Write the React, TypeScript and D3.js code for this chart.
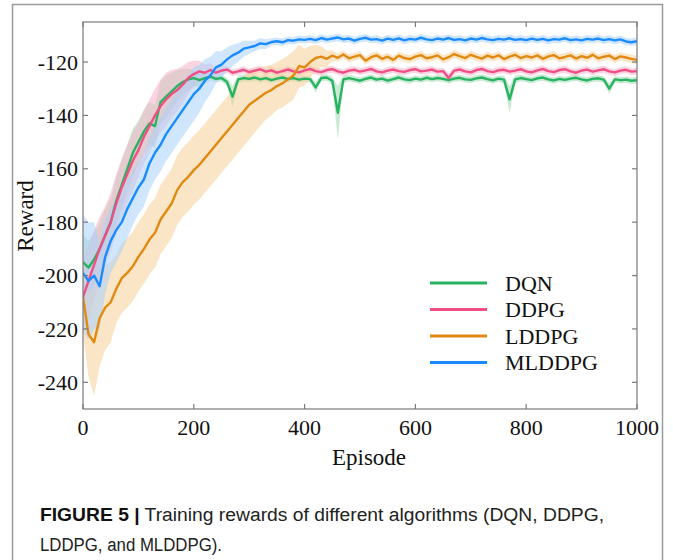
import React from "react";
import * as d3 from "d3";

const episodes: number[] = d3.range(0, 1001, 10);

const xTicks = [0, 200, 400, 600, 800, 1000];
const yTicks = [-240, -220, -200, -180, -160, -140, -120];

const seriesNames = ["DQN", "DDPG", "LDDPG", "MLDDPG"];
const lineColors = ["#27b35f", "#ef4f86", "#e08a12", "#1a8bff"];
const bandColors = ["#9fd9b3", "#f5b3c9", "#f6cf98", "#a9d2fb"];

const dqn = [
  -195, -197, -194, -190, -185, -180, -172, -166, -160, -154,
  -150, -146, -143, -144, -135, -133, -131, -129, -127.5, -126.5,
  -126, -126.8, -126, -125.5, -126.3, -126, -127.5, -133, -126.5, -126,
  -126.3, -125.8, -126.5, -126, -126.8, -126.2, -125.8, -126.4, -126, -126.6,
  -126.2, -126.4, -129.5, -126, -125.8, -127, -139, -126.5, -126, -126.5,
  -127, -126.3, -125.8, -126.6, -126.2, -127, -126.4, -125.8, -126.5, -126.8,
  -126.2, -126.6, -125.9, -126.4, -126, -126.3, -126.8, -126.2, -125.9, -126.5,
  -126.7, -126.1, -125.8, -126.4, -126.9, -126.2, -126.6, -134, -126.5, -126,
  -126.4, -126.8, -126.1, -125.8, -126.5, -126.9, -126.3, -126.7, -126.2, -125.9,
  -126.5, -126.9, -126.3, -126.1, -126.6, -130, -126.5, -126.8, -126.6, -127,
  -126.8,
];
const dqnBand = [
  10, 10, 10, 10, 10, 9, 9, 9, 9, 9,
  8, 8, 8, 8, 8, 8, 7, 6, 5, 4,
  3, 2.5, 2, 1.5, 1.3, 1.3, 1.5, 4, 1.5, 1.3,
  1.2, 1.2, 1.2, 1.2, 1.2, 1.2, 1.2, 1.2, 1.2, 1.2,
  1.2, 1.2, 2, 1.2, 1.2, 1.5, 10, 1.5, 1.2, 1.2,
  1.2, 1.2, 1.2, 1.2, 1.2, 1.2, 1.2, 1.2, 1.2, 1.2,
  1.2, 1.2, 1.2, 1.2, 1.2, 1.2, 1.2, 1.2, 1.2, 1.2,
  1.2, 1.2, 1.2, 1.2, 1.2, 1.2, 1.5, 5, 1.5, 1.2,
  1.2, 1.2, 1.2, 1.2, 1.2, 1.2, 1.2, 1.2, 1.2, 1.2,
  1.2, 1.2, 1.2, 1.2, 1.2, 2, 1.2, 1.2, 1.2, 1.2,
  1.2,
];

const ddpg = [
  -208, -202, -196, -190, -185, -180, -173, -167, -162, -157,
  -153, -148, -144, -140, -136.5, -134, -132, -130.5, -128.5, -126,
  -124.5, -123.5, -124, -123, -124, -123.2, -122.8, -124, -123.5, -122.9,
  -123.8, -123.2, -122.7, -123.6, -123.1, -124, -123.4, -122.8, -123.5, -123.9,
  -123.1, -122.6, -123.4, -123.8, -123, -122.7, -123.5, -124, -123.2, -122.9,
  -123.6, -123.1, -122.6, -123.5, -123.9, -123.2, -122.8, -123.4, -123.7, -123,
  -122.7, -123.5, -123.2, -122.8, -123.6, -123.4, -126, -123.2, -122.8, -123.5,
  -123.9, -123, -122.6, -123.4, -123.8, -123.1, -122.9, -123.6, -123.2, -122.7,
  -123.5, -123.9, -123.1, -122.6, -123.4, -123.8, -123, -122.7, -123.5, -124,
  -123.2, -122.8, -123.6, -123.1, -122.7, -123.5, -123.9, -123.2, -122.9, -123.6,
  -123.4,
];
const ddpgBand = [
  14, 14, 13, 12, 11, 11, 11, 11, 11, 11,
  10, 10, 10, 10, 10, 10, 9, 8, 7, 6,
  5, 4, 3, 2.5, 2, 1.5, 1.3, 1.3, 1.3, 1.3,
  1.3, 1.3, 1.3, 1.3, 1.3, 1.3, 1.3, 1.3, 1.3, 1.3,
  1.3, 1.3, 1.3, 1.3, 1.3, 1.3, 1.3, 1.3, 1.3, 1.3,
  1.3, 1.3, 1.3, 1.3, 1.3, 1.3, 1.3, 1.3, 1.3, 1.3,
  1.3, 1.3, 1.3, 1.3, 1.3, 1.3, 1.8, 1.3, 1.3, 1.3,
  1.3, 1.3, 1.3, 1.3, 1.3, 1.3, 1.3, 1.3, 1.3, 1.3,
  1.3, 1.3, 1.3, 1.3, 1.3, 1.3, 1.3, 1.3, 1.3, 1.3,
  1.3, 1.3, 1.3, 1.3, 1.3, 1.3, 1.3, 1.3, 1.3, 1.3,
  1.3,
];

const lddpg = [
  -208, -222, -225, -216, -212, -210, -205, -201, -199, -196.5,
  -193, -190, -186.5, -184, -179, -176, -173, -168, -165, -163,
  -160.5, -158.5, -156, -153.5, -151, -148.5, -146, -143.5, -141, -138.5,
  -136, -134.5, -133, -131.5, -130.5, -129, -128, -126.5, -125, -121.5,
  -122, -120, -118.5, -118, -118.8, -117.6, -118.4, -117.2, -118.6, -118,
  -117.4, -119.5, -118.2, -117.5, -118.8, -118, -119.2, -117.6, -118.5, -118.9,
  -118, -117.4, -118.6, -118.2, -117.5, -119, -118.2, -117, -117.8, -118.5,
  -117.3, -118.1, -118.7, -117.6, -118.3, -117.5, -118.9, -118, -117.3, -118.5,
  -117.8, -118.3, -117.5, -118.8, -117.9, -117.4, -118.6, -118.1, -117.5, -118.7,
  -117.8, -118.4, -117.3, -118.6, -118, -117.6, -118.9, -117.9, -118.3, -118.8,
  -119.2,
];
const lddpgBand = [
  14, 16, 20, 18, 16, 15, 13, 13, 13, 13,
  13, 13, 13, 13, 13, 13, 13, 13, 13, 13,
  13, 13, 13, 13, 13, 13, 13, 13, 13, 13,
  13, 12, 11, 10, 9.5, 9, 9, 9, 9, 8,
  7, 6, 5, 4, 3, 2, 1.5, 1.5, 1.5, 1.5,
  1.5, 1.5, 1.5, 1.5, 1.5, 1.5, 1.5, 1.5, 1.5, 1.5,
  1.5, 1.5, 1.5, 1.5, 1.5, 1.5, 1.5, 1.5, 1.5, 1.5,
  1.5, 1.5, 1.5, 1.5, 1.5, 1.5, 1.5, 1.5, 1.5, 1.5,
  1.5, 1.5, 1.5, 1.5, 1.5, 1.5, 1.5, 1.5, 1.5, 1.5,
  1.5, 1.5, 1.5, 1.5, 1.5, 1.5, 1.5, 1.5, 1.5, 1.5,
  1.5,
];

const mlddpg = [
  -199, -202, -200, -204, -193, -187, -183, -180, -175, -171,
  -167, -164, -158, -154, -151, -147, -144, -141, -138, -135,
  -132, -130, -127, -125, -122, -121, -119, -117.5, -116.5, -115,
  -114.5, -114, -113, -113.3, -112.5, -112.2, -112.6, -111.8, -112, -111.5,
  -111.7, -111.3, -111.8, -111, -111.6, -111.2, -110.8, -111.5, -111.2, -112,
  -111.3, -110.9, -111.6, -111.4, -112, -111.2, -111.7, -111.1, -111.9, -111.3,
  -111.6, -110.9, -111.5, -111.8, -111.2, -111.6, -111, -111.7, -111.4, -111.9,
  -111.2, -111.6, -111, -111.5, -111.8, -111.3, -111.6, -111.1, -111.7, -111.4,
  -111.8, -111.2, -111.7, -111.3, -111.9, -111.4, -111.6, -111.1, -111.8, -111.5,
  -111.9, -111.3, -111.6, -111.2, -111.8, -111.4, -111.9, -111.5, -112.3, -112.6,
  -112.2,
];
const mlddpgBand = [
  22, 22, 20, 16, 14, 12, 12, 11, 11, 10,
  10, 10, 10, 10, 10, 10, 10, 10, 10, 10,
  10, 9, 8, 7, 6, 5, 4.5, 4, 3.5, 3,
  2.5, 2, 2, 1.8, 1.4, 1.4, 1.4, 1.4, 1.4, 1.4,
  1.4, 1.4, 1.4, 1.4, 1.4, 1.4, 1.4, 1.4, 1.4, 1.4,
  1.4, 1.4, 1.4, 1.4, 1.4, 1.4, 1.4, 1.4, 1.4, 1.4,
  1.4, 1.4, 1.4, 1.4, 1.4, 1.4, 1.4, 1.4, 1.4, 1.4,
  1.4, 1.4, 1.4, 1.4, 1.4, 1.4, 1.4, 1.4, 1.4, 1.4,
  1.4, 1.4, 1.4, 1.4, 1.4, 1.4, 1.4, 1.4, 1.4, 1.4,
  1.4, 1.4, 1.4, 1.4, 1.4, 1.4, 1.4, 1.4, 1.4, 1.4,
  1.4,
];

const seriesValues = [dqn, ddpg, lddpg, mlddpg];
const seriesBands = [dqnBand, ddpgBand, lddpgBand, mlddpgBand];

const captionBold = "FIGURE 5 |";
const captionLine1 = " Training rewards of different algorithms (DQN, DDPG,";
const captionLine2 = "LDDPG, and MLDDPG).";

export default function App() {
  const W = 673;
  const H = 560;
  const left = 83;
  const right = 637;
  const top = 22;
  const bottom = 409;

  const x = d3.scaleLinear().domain([0, 1000]).range([left, right]);
  const y = d3.scaleLinear().domain([-250, -105]).range([bottom, top]);

  const line = d3
    .line<[number, number]>()
    .x((d) => x(d[0]))
    .y((d) => y(d[1]));
  const area = d3
    .area<[number, number, number]>()
    .x((d) => x(d[0]))
    .y0((d) => y(Math.max(-250, d[1] - d[2])))
    .y1((d) => y(Math.min(-105, d[1] + d[2])));

  const serif = "'Liberation Serif', 'Times New Roman', serif";
  const sans = "'Liberation Sans Narrow', 'Liberation Sans', Arial, sans-serif";
  const axisColor = "#7a7a7a";
  const tickLen = 5;

  const legendY = [283, 309.5, 336, 362.5];

  return (
    <svg
      width={W}
      height={H}
      style={{ position: "absolute", left: 0, top: 0, background: "#fff" }}
    >
      <rect x={0} y={0} width={W} height={H} fill="#fff" />
      <rect
        x={12.5}
        y={4.5}
        width={650}
        height={620}
        fill="none"
        stroke="#9a9a9a"
        strokeWidth={1.5}
      />
      <defs>
        <clipPath id="plotclip">
          <rect x={left} y={top} width={right - left} height={bottom - top} />
        </clipPath>
      </defs>

      <g clipPath="url(#plotclip)">
        {seriesValues.map((vals, i) => (
          <path
            key={"band" + i}
            d={
              area(
                episodes.map((e, k) => [e, vals[k], seriesBands[i][k]] as [number, number, number])
              ) || ""
            }
            fill={bandColors[i]}
            fillOpacity={0.55}
            stroke="none"
          />
        ))}
        {seriesValues.map((vals, i) => (
          <path
            key={"line" + i}
            d={line(episodes.map((e, k) => [e, vals[k]] as [number, number])) || ""}
            fill="none"
            stroke={lineColors[i]}
            strokeWidth={2.4}
            strokeLinejoin="round"
          />
        ))}
      </g>

      <rect
        x={left}
        y={top}
        width={right - left}
        height={bottom - top}
        fill="none"
        stroke={axisColor}
        strokeWidth={1.2}
      />

      {xTicks.map((t) => (
        <g key={"xt" + t}>
          <line x1={x(t)} x2={x(t)} y1={bottom} y2={bottom - tickLen} stroke={axisColor} strokeWidth={1.2} />
          <line x1={x(t)} x2={x(t)} y1={top} y2={top + tickLen} stroke={axisColor} strokeWidth={1.2} />
          <text
            x={x(t)}
            y={435}
            textAnchor="middle"
            fontFamily={serif}
            fontSize={22}
            fill="#111"
          >
            {t}
          </text>
        </g>
      ))}

      {yTicks.map((t) => (
        <g key={"yt" + t}>
          <line x1={left} x2={left + tickLen} y1={y(t)} y2={y(t)} stroke={axisColor} strokeWidth={1.2} />
          <line x1={right} x2={right - tickLen} y1={y(t)} y2={y(t)} stroke={axisColor} strokeWidth={1.2} />
          <text
            x={left - 5}
            y={y(t)}
            dy="0.35em"
            textAnchor="end"
            fontFamily={serif}
            fontSize={22}
            fill="#111"
          >
            {t}
          </text>
        </g>
      ))}

      <text x={369} y={465} textAnchor="middle" fontFamily={serif} fontSize={23} fill="#111">
        Episode
      </text>
      <text
        transform="translate(33,216) rotate(-90)"
        textAnchor="middle"
        fontFamily={serif}
        fontSize={23}
        fill="#111"
      >
        Reward
      </text>

      {seriesNames.map((name, i) => (
        <g key={"lg" + i}>
          <line
            x1={430}
            x2={487}
            y1={legendY[i]}
            y2={legendY[i]}
            stroke={lineColors[i]}
            strokeWidth={2.8}
          />
          <text
            x={505}
            y={legendY[i]}
            dy="0.35em"
            fontFamily={serif}
            fontSize={22}
            fill="#111"
          >
            {name}
          </text>
        </g>
      ))}

      <text
        x={40}
        y={521}
        fontFamily={sans}
        fontSize={18}
        fill="#222"
        textLength={564}
        lengthAdjust="spacingAndGlyphs"
      >
        <tspan fontWeight="bold" fill="#111">
          {captionBold}
        </tspan>
        <tspan>{captionLine1}</tspan>
      </text>
      <text
        x={40}
        y={551}
        fontFamily={sans}
        fontSize={18}
        fill="#222"
        textLength={182}
        lengthAdjust="spacingAndGlyphs"
      >
        {captionLine2}
      </text>
    </svg>
  );
}
